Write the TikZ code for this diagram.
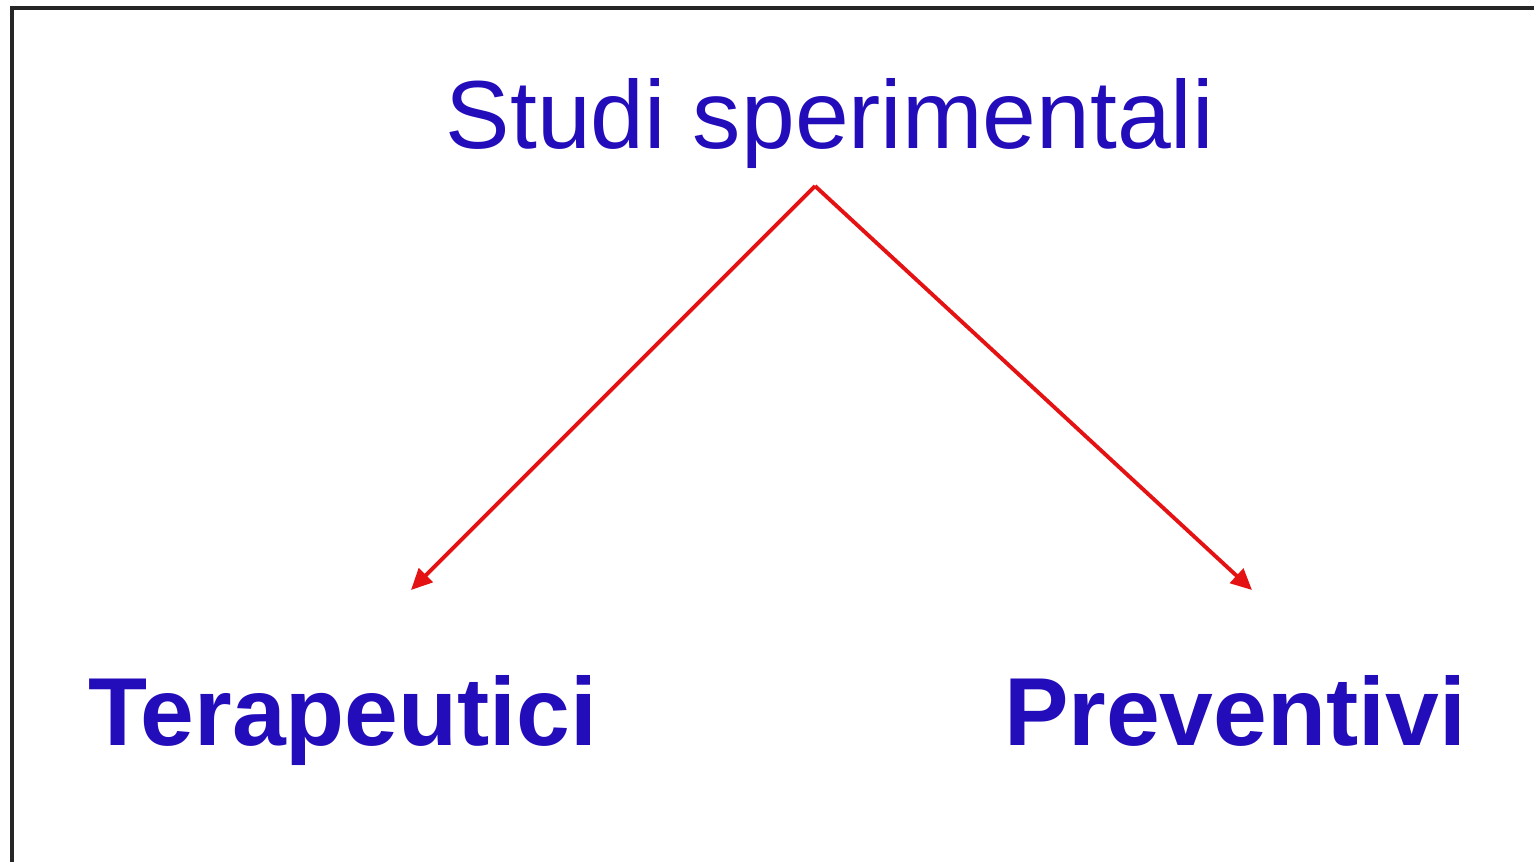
\documentclass[tikz,border=0pt]{standalone}
\usepackage{fontspec}
\setmainfont{Liberation Sans}
\usetikzlibrary{arrows.meta}
\definecolor{titleblue}{RGB}{35,12,185}
\definecolor{arrowred}{RGB}{228,18,18}
\tikzset{
  title/.style={anchor=base,text=titleblue,inner sep=0pt,font=\fontsize{27.5}{33}\selectfont},
  branch/.style={anchor=base,text=titleblue,inner sep=0pt,font=\fontsize{27.5}{33}\selectfont\bfseries},
  link/.style={draw=arrowred,line width=1.1pt,-{Triangle[length=6pt,width=5.5pt]}}
}
\begin{document}
\begin{tikzpicture}
\useasboundingbox (0,0) rectangle (15.34,8.62);
% frame: only left and top edges show
\draw[line width=0.9pt,black!85] (0.12,0)--(0.12,8.54)--(15.34,8.54);
\node[title] (studi) at (8.30,7.14) {Studi sperimentali};
\node[branch] (tera) at (3.43,1.17) {Terapeutici};
\node[branch] (prev) at (12.35,1.17) {Preventivi};
\coordinate (apex) at (8.15,6.76);
\coordinate (tera-end) at (4.11,2.72);
\coordinate (prev-end) at (12.52,2.72);
\draw[link] (apex)--(tera-end);
\draw[link] (apex)--(prev-end);
\end{tikzpicture}
\end{document}
